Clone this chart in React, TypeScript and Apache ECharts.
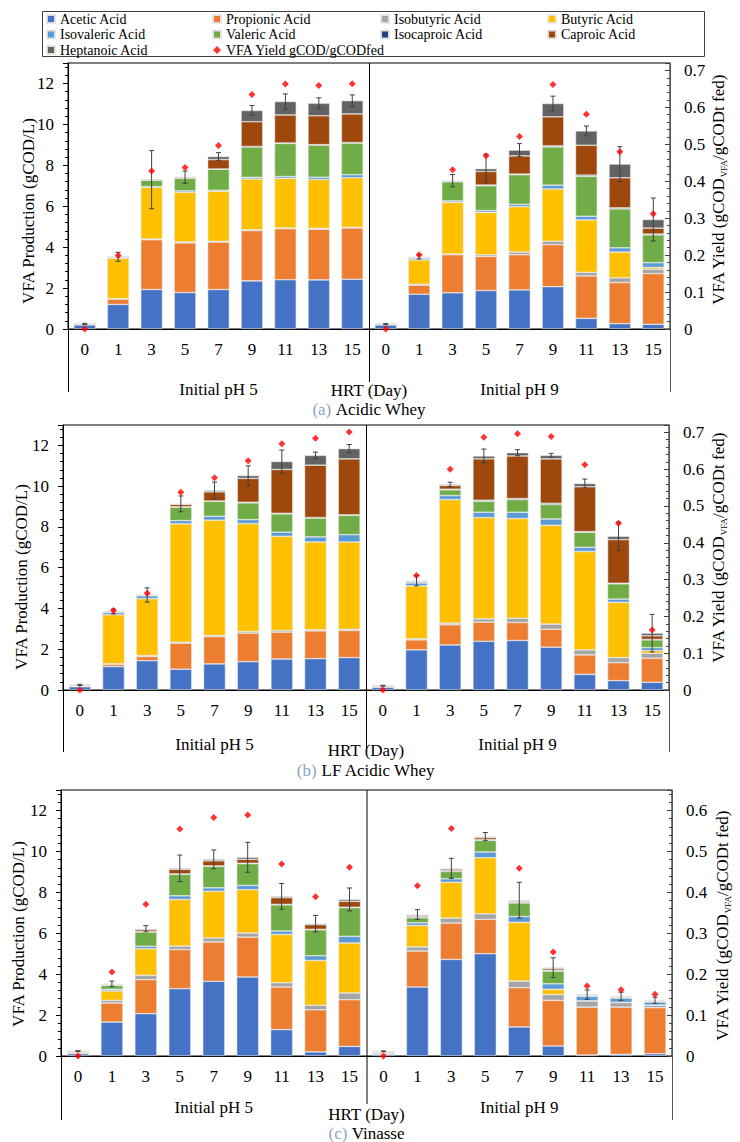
import React, { useEffect, useRef } from 'react';
import * as echarts from 'echarts';

const FONT = 'Liberation Serif';

const days = ['0', '1', '3', '5', '7', '9', '11', '13', '15'];
const groups = ['Initial pH 5', 'Initial pH 9'];
const acidNames = ['Acetic Acid', 'Propionic Acid', 'Isobutyric Acid', 'Butyric Acid', 'Isovaleric Acid', 'Valeric Acid', 'Isocaproic Acid', 'Caproic Acid', 'Heptanoic Acid'];
const acidColors = ['#4472C4', '#ED7D31', '#A5A5A5', '#FFC000', '#5B9BD5', '#70AD47', '#264478', '#9E480E', '#636363'];
const yieldName = 'VFA Yield gCOD/gCODfed';
const xTitle = 'HRT (Day)';
const leftTitle = 'VFA Production (gCOD/L)';

// (a) Acidic Whey — 9 days at initial pH 5, then 9 days at initial pH 9 (gCOD/L)
const aAcetic = [0.2, 1.2, 1.93, 1.78, 1.93, 2.35, 2.41, 2.4, 2.43, 0.2, 1.7, 1.77, 1.88, 1.91, 2.07, 0.52, 0.26, 0.23];
const aPropionic = [0.05, 0.26, 2.43, 2.43, 2.32, 2.46, 2.49, 2.48, 2.51, 0.04, 0.44, 1.86, 1.67, 1.72, 2.05, 2.07, 2.01, 2.48];
const aIsobutyric = [0, 0.02, 0.04, 0.04, 0.03, 0.04, 0.03, 0.04, 0.03, 0, 0.05, 0.03, 0.08, 0.13, 0.17, 0.18, 0.23, 0.21];
const aButyric = [0, 1.97, 2.52, 2.43, 2.45, 2.48, 2.43, 2.39, 2.42, 0, 1.18, 2.53, 2.07, 2.22, 2.55, 2.56, 1.26, 0.09];
const aIsovaleric = [0, 0.06, 0.04, 0.07, 0.05, 0.08, 0.09, 0.11, 0.15, 0, 0.07, 0.07, 0.09, 0.11, 0.19, 0.18, 0.21, 0.23];
const aValeric = [0, 0.02, 0.32, 0.61, 1.03, 1.49, 1.62, 1.57, 1.55, 0, 0.04, 0.94, 1.21, 1.45, 1.87, 1.95, 1.9, 1.36];
const aIsocaproic = [0, 0, 0, 0, 0.01, 0.02, 0.02, 0.02, 0.02, 0, 0.01, 0.01, 0.03, 0.03, 0.05, 0.06, 0.05, 0.04];
const aCaproic = [0, 0, 0.02, 0.06, 0.46, 1.21, 1.37, 1.41, 1.4, 0, 0.01, 0.03, 0.67, 0.89, 1.42, 1.46, 1.47, 0.29];
const aHeptanoic = [0, 0, 0, 0, 0.15, 0.55, 0.66, 0.61, 0.65, 0, 0.02, 0.01, 0.14, 0.28, 0.65, 0.7, 0.67, 0.42];
const aError = [0.03, 0.22, 1.42, 0.3, 0.19, 0.24, 0.37, 0.27, 0.28, 0.03, 0.1, 0.3, 0.7, 0.32, 0.36, 0.24, 0.85, 1.05];
const aYield = [0, 0.199, 0.428, 0.437, 0.497, 0.635, 0.663, 0.659, 0.664, 0, 0.201, 0.431, 0.469, 0.521, 0.662, 0.581, 0.48, 0.312];

// (b) LF Acidic Whey
const bAcetic = [0.16, 1.15, 1.44, 1.02, 1.28, 1.39, 1.52, 1.54, 1.59, 0.13, 1.97, 2.21, 2.39, 2.43, 2.1, 0.77, 0.46, 0.38];
const bPropionic = [0.04, 0.11, 0.2, 1.28, 1.34, 1.4, 1.32, 1.36, 1.33, 0.05, 0.49, 0.99, 0.94, 0.88, 0.88, 0.95, 0.88, 1.18];
const bIsobutyric = [0.02, 0.03, 0.05, 0.04, 0.05, 0.08, 0.08, 0.05, 0.06, 0.02, 0.05, 0.08, 0.16, 0.21, 0.25, 0.25, 0.25, 0.24];
const bButyric = [0.01, 2.4, 2.79, 5.81, 5.66, 5.29, 4.62, 4.31, 4.28, 0.01, 2.6, 6.06, 4.97, 4.89, 4.85, 4.82, 2.71, 0.13];
const bIsovaleric = [0.02, 0.11, 0.14, 0.16, 0.19, 0.2, 0.2, 0.25, 0.36, 0, 0.14, 0.2, 0.26, 0.31, 0.31, 0.21, 0.16, 0.15];
const bValeric = [0, 0.03, 0.03, 0.66, 0.74, 0.82, 0.9, 0.93, 0.95, 0, 0.06, 0.28, 0.54, 0.62, 0.71, 0.74, 0.75, 0.38];
const bIsocaproic = [0, 0, 0.01, 0.02, 0.01, 0.03, 0.03, 0.02, 0.02, 0, 0.02, 0.03, 0.05, 0.05, 0.06, 0.03, 0.03, 0.02];
const bCaproic = [0, 0.02, 0, 0.12, 0.45, 1.17, 2.15, 2.57, 2.75, 0, 0.01, 0.18, 2.03, 2.09, 2.18, 2.2, 2.14, 0.18];
const bHeptanoic = [0, 0, 0, 0.02, 0.07, 0.14, 0.39, 0.48, 0.5, 0, 0.02, 0.05, 0.14, 0.16, 0.17, 0.16, 0.16, 0.13];
const bError = [0.03, 0.12, 0.35, 0.39, 0.41, 0.48, 0.56, 0.16, 0.2, 0.02, 0.25, 0.11, 0.34, 0.15, 0.1, 0.22, 0.69, 0.92];
const bYield = [0, 0.216, 0.263, 0.537, 0.577, 0.623, 0.669, 0.684, 0.701, 0, 0.311, 0.6, 0.687, 0.696, 0.689, 0.612, 0.453, 0.163];

// (c) Vinasse
const cAcetic = [0.11, 1.66, 2.07, 3.29, 3.65, 3.86, 1.29, 0.2, 0.47, 0.08, 3.37, 4.72, 5.0, 1.42, 0.49, 0.05, 0.08, 0.11];
const cPropionic = [0.05, 0.93, 1.66, 1.91, 1.92, 1.95, 2.08, 2.06, 2.28, 0.03, 1.76, 1.78, 1.68, 1.92, 2.23, 2.34, 2.31, 2.25];
const cIsobutyric = [0.01, 0.13, 0.21, 0.17, 0.2, 0.2, 0.21, 0.22, 0.33, 0.01, 0.2, 0.24, 0.27, 0.32, 0.28, 0.3, 0.22, 0.12];
const cButyric = [0.06, 0.46, 1.3, 2.28, 2.28, 2.12, 2.36, 2.19, 2.44, 0.06, 1.05, 1.75, 2.74, 2.87, 0.26, 0.01, 0.01, 0.01];
const cIsovaleric = [0.01, 0.08, 0.12, 0.18, 0.17, 0.21, 0.17, 0.23, 0.33, 0.02, 0.13, 0.17, 0.28, 0.29, 0.27, 0.22, 0.21, 0.15];
const cValeric = [0, 0.19, 0.7, 1.05, 1.05, 1.06, 1.28, 1.27, 1.4, 0.02, 0.25, 0.36, 0.57, 0.66, 0.62, 0.03, 0.04, 0.03];
const cIsocaproic = [0, 0.01, 0.02, 0.02, 0.02, 0.02, 0.02, 0.02, 0.02, 0, 0.04, 0.04, 0.03, 0.04, 0.04, 0.03, 0.03, 0.03];
const cCaproic = [0, 0.04, 0.09, 0.22, 0.25, 0.19, 0.33, 0.23, 0.29, 0.01, 0.06, 0.08, 0.1, 0.05, 0.08, 0.01, 0.01, 0.01];
const cHeptanoic = [0, 0.03, 0.05, 0.05, 0.07, 0.1, 0.06, 0.05, 0.09, 0, 0.05, 0.03, 0.05, 0.04, 0.05, 0.01, 0.01, 0.01];
const cError = [0.02, 0.13, 0.15, 0.65, 0.46, 0.73, 0.63, 0.4, 0.56, 0.02, 0.24, 0.49, 0.2, 0.88, 0.48, 0.23, 0.2, 0.15];
const cYield = [0, 0.205, 0.371, 0.555, 0.583, 0.589, 0.469, 0.389, 0.461, 0, 0.416, 0.556, null, 0.459, 0.254, 0.171, 0.162, 0.151];

const panels = [
  {
    letter: '(a)', caption: 'Acidic Whey',
    acids: [aAcetic, aPropionic, aIsobutyric, aButyric, aIsovaleric, aValeric, aIsocaproic, aCaproic, aHeptanoic],
    err: aError, yld: aYield, yMax2: 0.72,
    layout: { left: 68, top: 63, width: 602, height: 266, lT: [28, 211], rT: [718, 190], groupY: 389, hrtY: 390, capY: 409, frameB: 392, midB: 382 },
  },
  {
    letter: '(b)', caption: 'LF Acidic Whey',
    acids: [bAcetic, bPropionic, bIsobutyric, bButyric, bIsovaleric, bValeric, bIsocaproic, bCaproic, bHeptanoic],
    err: bError, yld: bYield, yMax2: 0.72,
    layout: { left: 63, top: 425, width: 606, height: 265, lT: [21, 577], rT: [718, 548], groupY: 744, hrtY: 750, capY: 770, frameB: 752, midB: 748 },
  },
  {
    letter: '(c)', caption: 'Vinasse',
    acids: [cAcetic, cPropionic, cIsobutyric, cButyric, cIsovaleric, cValeric, cIsocaproic, cCaproic, cHeptanoic],
    err: cError, yld: cYield, yMax2: 0.65,
    layout: { left: 61, top: 790, width: 611, height: 266, lT: [18, 934], rT: [722, 926], groupY: 1107, hrtY: 1114, capY: 1133, frameB: 1120, midB: 1104 },
  },
];

function txt(text: string, x: number, y: number, size: number, extra: any = {}) {
  return {
    type: 'text', x, y, ...extra,
    style: {
      text, font: `${size}px ${FONT}`, fontSize: size, fontFamily: FONT, fill: '#000',
      align: 'center', verticalAlign: 'middle', textAlign: 'center', textVerticalAlign: 'middle',
    },
  };
}

function buildOption() {
  const cats = groups.flatMap((g, gi) => days.map((d) => `${gi}|${d}`));
  const grid: any[] = [];
  const xAxis: any[] = [];
  const yAxis: any[] = [];
  const series: any[] = [];
  const graphic: any[] = [];

  graphic.push({ type: 'rect', shape: { x: 42.5, y: 11.5, width: 662, height: 45 }, style: { fill: 'none', stroke: '#404040', lineWidth: 1 } });

  panels.forEach((p, i) => {
    const L = p.layout;
    grid.push({ left: L.left, top: L.top, width: L.width, height: L.height, show: true, borderColor: '#000', borderWidth: 1 });
    xAxis.push({
      type: 'category', gridIndex: i, data: cats,
      axisLine: { lineStyle: { color: '#000', width: 1 } },
      axisTick: { show: false },
      axisLabel: { interval: 0, margin: 12, fontSize: 17, color: '#000', fontFamily: FONT, formatter: (v: string) => v.split('|')[1] },
    });
    yAxis.push({
      type: 'value', gridIndex: i, min: 0, max: 13, interval: 2, position: 'left',
      axisLine: { show: true, lineStyle: { color: '#000' } },
      axisTick: { show: true, length: 5, lineStyle: { color: '#000' } },
      minorTick: { show: true, splitNumber: 5, length: 3, lineStyle: { color: '#000' } },
      splitLine: { show: false },
      axisLabel: { margin: 14, fontSize: 17, color: '#000', fontFamily: FONT, showMaxLabel: false },
    });
    yAxis.push({
      type: 'value', gridIndex: i, min: 0, max: p.yMax2, interval: 0.1, position: 'right',
      axisLine: { show: true, lineStyle: { color: '#595959' } },
      axisTick: { show: true, inside: true, length: 5, lineStyle: { color: '#404040' } },
      minorTick: { show: true, splitNumber: 5, length: 3, lineStyle: { color: '#404040' } },
      splitLine: { show: false },
      axisLabel: { margin: 14, fontSize: 17, color: '#000', fontFamily: FONT, showMaxLabel: false, formatter: (v: number) => (v === 0 ? '0' : v.toFixed(1)) },
    });

    p.acids.forEach((arr, k) => {
      series.push({
        type: 'bar', name: acidNames[k], stack: 'p' + i, xAxisIndex: i, yAxisIndex: 2 * i,
        data: arr, barWidth: '65%',
        itemStyle: { color: acidColors[k], borderColor: 'rgba(230,230,230,0.9)', borderWidth: 0.6 },
        emphasis: { disabled: true },
      });
    });

    const totals = cats.map((_, j) => p.acids.reduce((s, arr) => s + arr[j], 0));
    series.push({
      type: 'custom', name: 'err' + i, xAxisIndex: i, yAxisIndex: 2 * i, z: 4, silent: true,
      data: totals.map((t, j) => [j, t, p.err[j]]),
      encode: { x: 0, y: 1 },
      renderItem: (params: any, api: any) => {
        const idx = api.value(0);
        const t = api.value(1);
        const e = api.value(2);
        const top = api.coord([idx, t + e]);
        const bot = api.coord([idx, Math.max(0, t - e)]);
        const w = 2.5;
        const st = { stroke: '#404040', lineWidth: 1 };
        return {
          type: 'group',
          children: [
            { type: 'line', shape: { x1: top[0], y1: top[1], x2: bot[0], y2: bot[1] }, style: st },
            { type: 'line', shape: { x1: top[0] - w, y1: top[1], x2: top[0] + w, y2: top[1] }, style: st },
            { type: 'line', shape: { x1: bot[0] - w, y1: bot[1], x2: bot[0] + w, y2: bot[1] }, style: st },
          ],
        };
      },
    });

    series.push({
      type: 'scatter', name: yieldName, xAxisIndex: i, yAxisIndex: 2 * i + 1, z: 5, clip: false,
      data: p.yld, symbol: 'diamond', symbolSize: 7,
      itemStyle: { color: '#FF0000' }, emphasis: { disabled: true },
    });

    const bottom = L.top + L.height;
    const mid = L.left + L.width / 2;
    graphic.push({ type: 'line', shape: { x1: mid + 0.5, y1: L.top, x2: mid + 0.5, y2: L.midB }, style: { stroke: '#000', lineWidth: 1 } });
    graphic.push({ type: 'line', shape: { x1: L.left + 0.5, y1: bottom, x2: L.left + 0.5, y2: L.frameB }, style: { stroke: '#000', lineWidth: 1 } });
    graphic.push({ type: 'line', shape: { x1: L.left + L.width + 0.5, y1: bottom, x2: L.left + L.width + 0.5, y2: L.frameB }, style: { stroke: '#595959', lineWidth: 1 } });

    groups.forEach((g, gi) => {
      graphic.push(txt(g, L.left + L.width * (gi === 0 ? 0.25 : 0.75), L.groupY, 17));
    });
    graphic.push(txt(xTitle, mid, L.hrtY, 17));
    graphic.push({
      type: 'text', x: mid, y: L.capY,
      style: {
        text: `{l|${p.letter}} {t|${p.caption}}`,
        align: 'center', verticalAlign: 'middle', textAlign: 'center', textVerticalAlign: 'middle',
        font: `17px ${FONT}`, fontSize: 17, fontFamily: FONT,
        rich: {
          l: { fontSize: 17, fontFamily: FONT, fill: '#8EA4BE', color: '#8EA4BE' },
          t: { fontSize: 17, fontFamily: FONT, fill: '#000', color: '#000' },
        },
      },
    });
    graphic.push(txt(leftTitle, L.lT[0], L.lT[1], 17, { rotation: Math.PI / 2 }));
    graphic.push({
      type: 'text', x: L.rT[0], y: L.rT[1], rotation: Math.PI / 2,
      style: {
        text: '{a|VFA Yield (gCOD}{s|VFA}{a|/gCODt fed)}',
        align: 'center', verticalAlign: 'middle', textAlign: 'center', textVerticalAlign: 'middle',
        font: `17px ${FONT}`, fontSize: 17, fontFamily: FONT,
        rich: {
          a: { fontSize: 17, fontFamily: FONT, fill: '#000', color: '#000', lineHeight: 20 },
          s: { fontSize: 9, fontFamily: FONT, fill: '#000', color: '#000', verticalAlign: 'bottom', lineHeight: 12 },
        },
      },
    });
  });

  const legendBase = {
    orient: 'vertical', top: 12, padding: 0, itemWidth: 8, itemHeight: 8, itemGap: 1.5,
    textStyle: { fontSize: 14, lineHeight: 14, fontFamily: FONT, color: '#000' },
    selectedMode: false,
  };
  const li = (n: string) => ({ name: n, icon: n === yieldName ? 'diamond' : 'rect' });
  const legend = [
    { ...legendBase, left: 46, data: [acidNames[0], acidNames[4], acidNames[8]].map(li) },
    { ...legendBase, left: 212, data: [acidNames[1], acidNames[5], yieldName].map(li) },
    { ...legendBase, left: 380, data: [acidNames[2], acidNames[6]].map(li) },
    { ...legendBase, left: 547, data: [acidNames[3], acidNames[7]].map(li) },
  ];

  return {
    animation: false,
    backgroundColor: '#fff',
    textStyle: { fontFamily: FONT },
    legend, grid, xAxis, yAxis, series, graphic,
  };
}

export default function App() {
  const ref = useRef<HTMLDivElement>(null);
  useEffect(() => {
    document.body.style.margin = '0';
    if (!ref.current) return;
    const chart = echarts.init(ref.current, undefined, { renderer: 'svg' });
    chart.setOption(buildOption() as any);
    return () => chart.dispose();
  }, []);
  return <div ref={ref} style={{ width: 740, height: 1142 }} />;
}
